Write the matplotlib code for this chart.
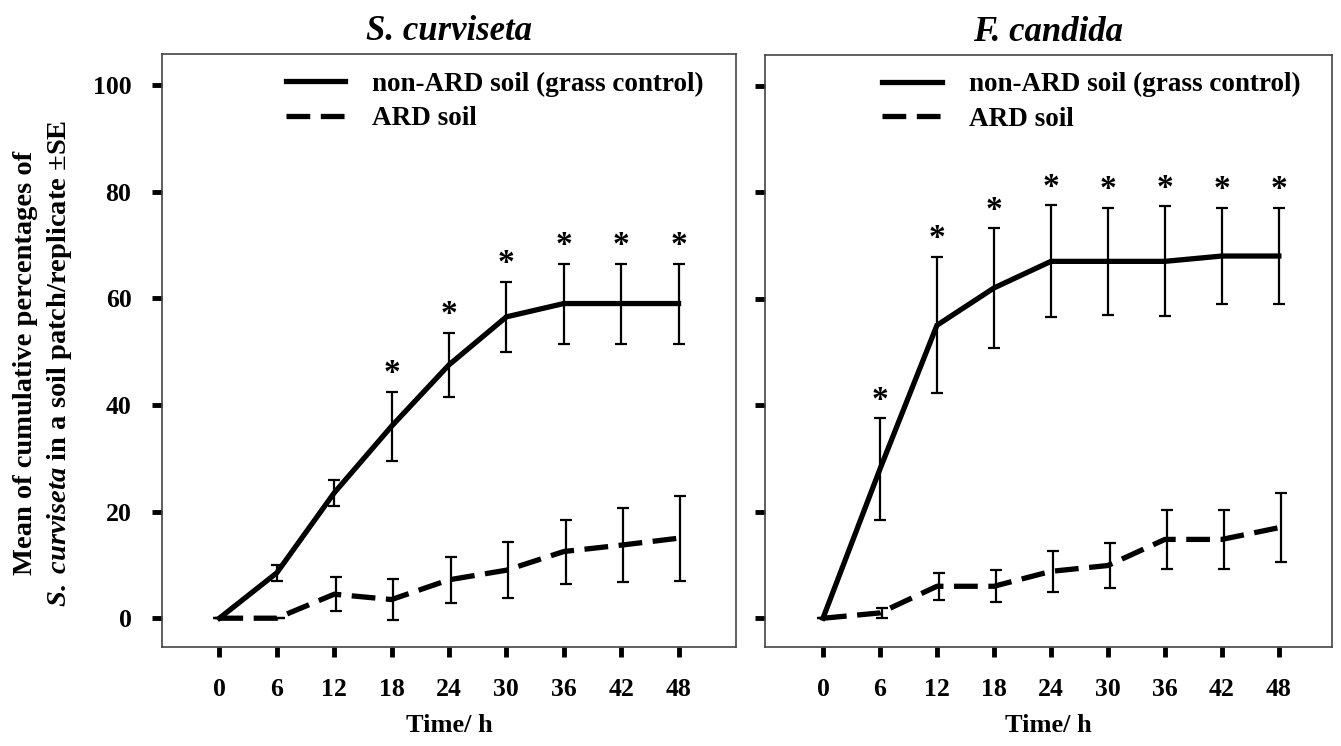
import numpy as np
import matplotlib
matplotlib.use("Agg")
import matplotlib.pyplot as plt

plt.rcParams['font.family'] = ['Liberation Serif', 'DejaVu Serif']
plt.rcParams['font.weight'] = 'bold'
plt.rcParams['mathtext.fontset'] = 'custom'
plt.rcParams['mathtext.rm'] = 'Liberation Serif:bold'
plt.rcParams['mathtext.it'] = 'Liberation Serif:italic:bold'

# time points (h)
hours = [0, 6, 12, 18, 24, 30, 36, 42, 48]

# S. curviseta
sc_control = [0, 8.5, 23.5, 36, 47.5, 56.5, 59, 59, 59]
sc_control_se = [0, 1.5, 2.5, 6.5, 6, 6.5, 7.5, 7.5, 7.5]
sc_ard = [0, 0, 4.5, 3.5, 7.2, 9, 12.5, 13.7, 15]
sc_ard_se = [0, 0, 3.2, 3.8, 4.3, 5.2, 6, 7, 8]
sc_sig = [False, False, False, True, True, True, True, True, True]

# F. candida
fc_control = [0, 28, 55, 62, 67, 67, 67, 68, 68]
fc_control_se = [0, 9.5, 12.8, 11.2, 10.5, 10, 10.3, 9, 9]
fc_ard = [0, 1, 6, 6, 8.8, 9.9, 14.8, 14.8, 17]
fc_ard_se = [0, 1, 2.5, 3, 3.8, 4.2, 5.5, 5.6, 6.5]
fc_sig = [False, True, True, True, True, True, True, True, True]

titles = ["S. curviseta", "F. candida"]
legend_labels = ["non-ARD soil (grass control)", "ARD soil"]

fig = plt.figure(figsize=(13.41, 7.46), dpi=100)
ax1 = fig.add_axes([0.1208, 0.1327, 0.428, 0.795])
ax2 = fig.add_axes([0.5705, 0.1327, 0.4228, 0.794])

panels = [
    (ax1, sc_control, sc_control_se, sc_ard, sc_ard_se, sc_sig, (-6, 54)),
    (ax2, fc_control, fc_control_se, fc_ard, fc_ard_se, fc_sig, (-6.1, 53.6)),
]

for i, (ax, ctl, ctl_se, ard, ard_se, sig, xl) in enumerate(panels):
    ax.plot(hours, ctl, color='black', lw=3.8, solid_joinstyle='miter',
            label=legend_labels[0], zorder=3)
    ax.plot(hours, ard, color='black', lw=3.8, dashes=(4.5, 2),
            label=legend_labels[1], zorder=3)
    ax.errorbar(hours, ctl, yerr=ctl_se, fmt='none', ecolor='black',
                elinewidth=1.6, capsize=4, capthick=1.6, zorder=2)
    ax.errorbar(np.array(hours) + 0.2, ard, yerr=ard_se, fmt='none', ecolor='black',
                elinewidth=1.6, capsize=4, capthick=1.6, zorder=2)
    for h, m, s, flag in zip(hours, ctl, ctl_se, sig):
        if flag:
            ax.annotate('*', (h, m + s), xytext=(0, 2), textcoords='offset points',
                        ha='center', va='bottom', fontsize=24, fontweight='bold')

    ax.set_xlim(*xl)
    ax.set_ylim(-5.4, 105.8)
    ax.set_xticks(hours)
    ax.set_yticks([0, 20, 40, 60, 80, 100])
    ax.tick_params(direction='out', length=7, width=3.5, labelsize=18.5, pad=15)
    for sp in ax.spines.values():
        sp.set_linewidth(1.2)
        sp.set_color('#444444')
    ax.set_title(titles[i], fontsize=25, fontweight='bold', fontstyle='italic', pad=10)
    ax.set_xlabel('Time/ h', fontsize=19, fontweight='bold', labelpad=10)
    ax.legend(loc='upper right', bbox_to_anchor=(0.975, 1.0), frameon=False,
              fontsize=19.5, handlelength=2.2, handletextpad=1.0,
              labelspacing=0.35, borderaxespad=0.25)

ax2.set_yticklabels([])

fig.text(0.019, 0.513, 'Mean of cumulative percentages of', rotation=90,
         ha='center', va='center', fontsize=20.5, fontweight='bold')
fig.text(0.044, 0.513, r'$\mathit{S.\;curviseta}$ in a soil patch/replicate ±SE',
         rotation=90, ha='center', va='center', fontsize=20.5, fontweight='bold')

fig.savefig('out.png', dpi=100)
